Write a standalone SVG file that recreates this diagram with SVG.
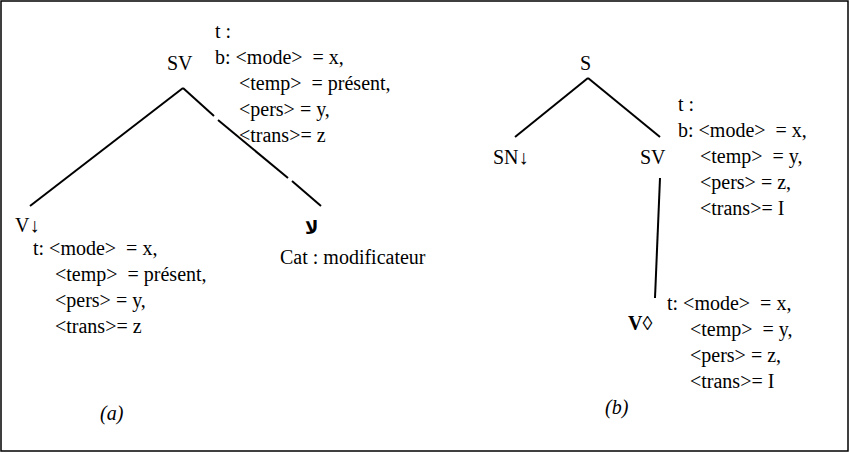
<svg xmlns="http://www.w3.org/2000/svg" width="850" height="453" viewBox="0 0 850 453">
<style>
text{font-family:"Liberation Serif","Times New Roman",serif;font-size:20px;fill:#000;white-space:pre}
.l{stroke:#000;stroke-width:2;fill:none}
.i{font-style:italic}
.b{font-weight:bold}
.ar{font-family:"DejaVu Sans","Noto Sans",sans-serif;font-size:18px}
</style>
<rect x="1" y="1" width="847" height="450" fill="#fff" stroke="#000" stroke-width="1.5"/>
<g id="connectors">
<line class="l" x1="183" y1="88" x2="30" y2="206"/>
<line class="l" x1="183" y1="88" x2="214" y2="116"/>
<line class="l" x1="218" y1="120" x2="288" y2="178"/>
<line class="l" x1="292" y1="181" x2="321" y2="206"/>
<line class="l" x1="588" y1="78" x2="515" y2="137"/>
<line class="l" x1="588" y1="78" x2="660" y2="137"/>
<line class="l" x1="660" y1="178" x2="655" y2="298"/>
</g>
<g id="SV_a"><text x="167" y="70">SV</text>
<text x="215" y="38">t :</text>
<text x="215" y="64">b: &lt;mode&gt;  = x,</text>
<text x="239" y="90">&lt;temp&gt;  = présent,</text>
<text x="239" y="116">&lt;pers&gt; = y,</text>
<text x="239" y="142">&lt;trans&gt;= z</text></g>
<g id="V_a"><text x="15" y="232">V↓</text>
<text x="33" y="255">t: &lt;mode&gt;  = x,</text>
<text x="55" y="281">&lt;temp&gt;  = présent,</text>
<text x="55" y="307">&lt;pers&gt; = y,</text>
<text x="55" y="333">&lt;trans&gt;= z</text></g>
<g id="mod_a"><text x="305" y="234" class="b ar">ﻻ</text>
<text x="280" y="264">Cat : modificateur</text></g>
<text x="100" y="420" class="i">(a)</text>
<g id="S_b"><text x="580" y="70">S</text></g>
<g id="SN_b"><text x="493" y="164">SN↓</text></g>
<g id="SV_b"><text x="640" y="164">SV</text>
<text x="678" y="111">t :</text>
<text x="678" y="137">b: &lt;mode&gt;  = x,</text>
<text x="700" y="163">&lt;temp&gt;  = y,</text>
<text x="700" y="189">&lt;pers&gt; = z,</text>
<text x="700" y="215">&lt;trans&gt;= I</text></g>
<g id="V_b"><text x="628" y="330" class="b">V◊</text>
<text x="667" y="310">t: &lt;mode&gt;  = x,</text>
<text x="690" y="336">&lt;temp&gt;  = y,</text>
<text x="690" y="362">&lt;pers&gt; = z,</text>
<text x="690" y="388">&lt;trans&gt;= I</text></g>
<text x="605" y="414" class="i">(b)</text>
</svg>
